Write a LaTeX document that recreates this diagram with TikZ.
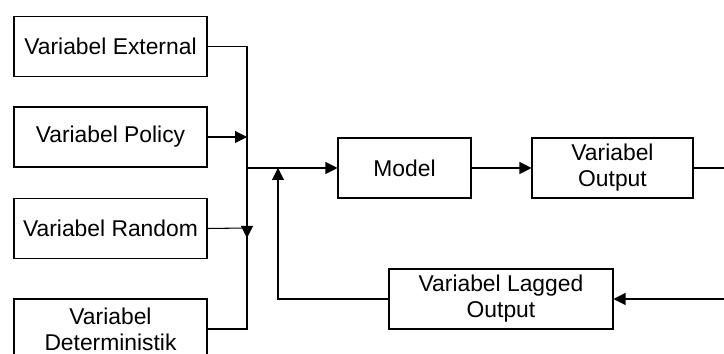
\documentclass[tikz,border=0pt]{standalone}
\usepackage{fontspec}
\setmainfont{Liberation Sans}
\usepackage{tikz}
\usetikzlibrary{arrows.meta}
\usetikzlibrary{positioning}
\tikzstyle{block}=[draw,line width=0.6pt,minimum height=1.2cm,inner sep=2pt,align=center,font=\fontsize{13}{14.8}\selectfont]
\tikzstyle{edge} = [draw,line width=0.6pt,-{Triangle[length=0.24cm,width=0.24cm]}]
\tikzstyle{wire} = [draw,line width=0.6pt]

\begin{document}
\begin{tikzpicture}[x=0.02cm,y=-0.02cm]
    \useasboundingbox (0,0) rectangle (724,354);
    \foreach \pos/\name/\txt in {{(110.5,46.5)/ext/Variabel External},{(110.5,137)/pol/Variabel Policy},{(110.5,228.5)/rnd/Variabel Random},{(110.5,329)/det/{Variabel\\Deterministik}}}
        \node[block,minimum width=3.86cm] (\name) at \pos {\txt};
    \node[block,minimum width=2.66cm] (model) at (404.5,168) {Model};
    \node[block,minimum width=3.22cm] (out) at (612.5,168) {Variabel\\Output};
    \node[block,minimum width=4.48cm] (lag) at (501,299) {Variabel Lagged\\Output};
    \coordinate (bj) at (247,168);
    \coordinate (rj) at (247,228);
    \coordinate (fb) at (278,168);
    \coordinate (re) at (726,168);
    \coordinate (re2) at (726,299);
    % inputs onto the bus
    \path[wire] (ext.east) -| (bj);
    \path[wire] (det.east) -| (bj);
    \path[edge] (pol.east) -- (pol.east -| bj);
    \path[edge] (rnd.east) -- (rj) -- ++(0,10);
    % main line
    \path[edge] (bj) -- (model);
    \path[edge] (model) -- (out);
    \path[wire] (out.east) -- (re);
    % feedback
    \path[edge] (re2) -- (lag.east);
    \path[edge] (lag.west) -| (fb);
\end{tikzpicture}
\end{document}
